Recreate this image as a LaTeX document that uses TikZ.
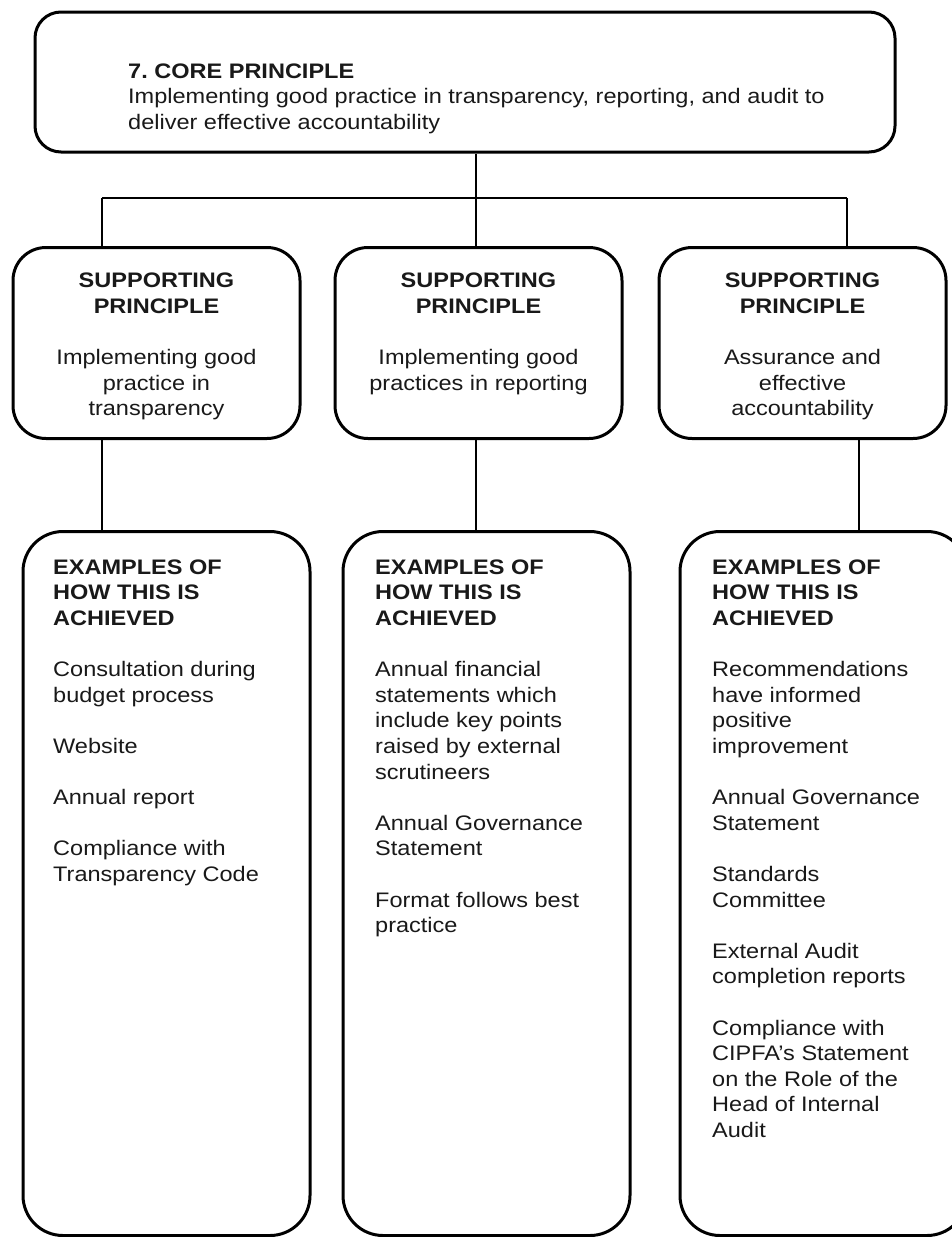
\documentclass[tikz,border=0pt]{standalone}
\usepackage{fontspec}
\setmainfont{Liberation Sans}[FakeStretch=1.12]
\usetikzlibrary{calc}
\frenchspacing
\newcommand{\topline}{\rule{0pt}{17pt}}
\tikzset{
  frame/.style={draw=black, line width=3pt, fill=white, inner sep=0pt},
  corebox/.style={frame, rounded corners=26pt, minimum width=860pt, minimum height=140pt},
  supbox/.style={frame, rounded corners=33pt, minimum width=287pt, minimum height=191pt},
  exbox/.style={frame, rounded corners=40pt, minimum width=287pt, minimum height=704pt},
  conn/.style={draw=black, line width=1.5pt},
  txt/.style={inner sep=0pt, text=black!90, font=\fontsize{21}{25.6}\selectfont},
  lefttxt/.style={txt, anchor=north west, align=left},
  midtxt/.style={txt, anchor=north, align=center}
}
\begin{document}
\begin{tikzpicture}[x=1pt, y=-1pt]
\useasboundingbox (0,0) rectangle (952,1237);
\clip (0,0) rectangle (952,1237);
\fill[white] (0,0) rectangle (952,1237);

% boxes
\node[corebox] (core) at (465,82) {};
\node[supbox] (sp1) at (156.5,343) {};
\node[supbox] (sp2) at (478.5,343) {};
\node[supbox] (sp3) at (802.5,343) {};
\node[exbox] (ex1) at (166.5,883.5) {};
\node[exbox] (ex2) at (486.5,883.5) {};
\node[exbox] (ex3) at (823.5,883.5) {};

% branching lines
\coordinate (busL) at (102,198);
\coordinate (busM) at (476,198);
\coordinate (busR) at (847,198);
\coordinate (dropL) at (102,480);
\coordinate (dropM) at (476,480);
\coordinate (dropR) at (859,480);

\draw[conn] (busL) -- (busR);
\draw[conn] (core.south -| busM) -- (sp2.north -| busM);
\draw[conn] (busL) -- (sp1.north -| busL);
\draw[conn] (busR) -- (sp3.north -| busR);
\draw[conn] (sp1.south -| dropL) -- (ex1.north -| dropL);
\draw[conn] (sp2.south -| dropM) -- (ex2.north -| dropM);
\draw[conn] (sp3.south -| dropR) -- (ex3.north -| dropR);

% core principle
\node[lefttxt] (coretext) at (128,61) {\topline\textbf{7. CORE PRINCIPLE}\\
Implementing good practice in transparency, reporting, and audit to\\
deliver effective accountability};

% supporting principles
\node[midtxt] (sp1text) at (156.5,270.5) {\topline\textbf{SUPPORTING}\\\textbf{PRINCIPLE}\\[25.6pt]
Implementing good\\practice in\\transparency};
\node[midtxt] (sp2text) at (478.5,270.5) {\topline\textbf{SUPPORTING}\\\textbf{PRINCIPLE}\\[25.6pt]
Implementing good\\practices in reporting};
\node[midtxt] (sp3text) at (802.5,270.5) {\topline\textbf{SUPPORTING}\\\textbf{PRINCIPLE}\\[25.6pt]
Assurance and\\effective\\accountability};

% examples
\node[lefttxt] (ex1text) at (53,557) {\topline\textbf{EXAMPLES OF}\\\textbf{HOW THIS IS}\\\textbf{ACHIEVED}\\[25.6pt]
Consultation during\\budget process\\[25.6pt]
Website\\[25.6pt]
Annual report\\[25.6pt]
Compliance with\\Transparency Code};
\node[lefttxt] (ex2text) at (375,557) {\topline\textbf{EXAMPLES OF}\\\textbf{HOW THIS IS}\\\textbf{ACHIEVED}\\[25.6pt]
Annual financial\\statements which\\include key points\\raised by external\\scrutineers\\[25.6pt]
Annual Governance\\Statement\\[25.6pt]
Format follows best\\practice};
\node[lefttxt] (ex3text) at (712,557) {\topline\textbf{EXAMPLES OF}\\\textbf{HOW THIS IS}\\\textbf{ACHIEVED}\\[25.6pt]
Recommendations\\have informed\\positive\\improvement\\[25.6pt]
Annual Governance\\Statement\\[25.6pt]
Standards\\Committee\\[25.6pt]
External Audit\\completion reports\\[25.6pt]
Compliance with\\CIPFA’s Statement\\on the Role of the\\Head of Internal\\Audit};
\end{tikzpicture}
\end{document}
